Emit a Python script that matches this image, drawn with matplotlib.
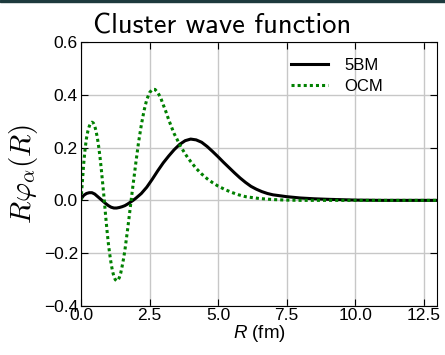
import matplotlib
matplotlib.use("Agg")
import matplotlib.pyplot as plt
from matplotlib.patches import Rectangle


# 5BM cluster wave function R*phi(R)
r_5bm = [0.0, 0.1, 0.2, 0.3, 0.4, 0.5, 0.6, 0.7, 0.8, 0.9, 1.0, 1.1, 1.2,
         1.3, 1.4, 1.5, 1.6, 1.7, 1.8, 1.9, 2.0, 2.2, 2.4, 2.6, 2.8, 3.0,
         3.2, 3.4, 3.6, 3.8, 4.0, 4.2, 4.4, 4.6, 4.8, 5.0, 5.2, 5.4, 5.6,
         5.8, 6.0, 6.2, 6.4, 6.6, 6.8, 7.0, 7.5, 8.0, 8.5, 9.0, 10.0, 11.0,
         12.0, 13.0]
phi_5bm = [0.005, 0.019, 0.026, 0.029, 0.029, 0.024, 0.015, 0.006, -0.003,
           -0.012, -0.020, -0.026, -0.029, -0.029, -0.027, -0.024, -0.020,
           -0.014, -0.007, 0.000, 0.008, 0.026, 0.050, 0.080, 0.112, 0.142,
           0.168, 0.192, 0.212, 0.226, 0.232, 0.229, 0.220, 0.204, 0.185,
           0.165, 0.144, 0.124, 0.104, 0.085, 0.068, 0.053, 0.042, 0.033,
           0.026, 0.021, 0.014, 0.009, 0.006, 0.004, 0.001, 0.0, 0.0, 0.0]

# OCM cluster wave function
r_ocm = [0.0, 0.05, 0.10, 0.15, 0.20, 0.25, 0.30, 0.35, 0.40, 0.45, 0.50,
         0.55, 0.60, 0.65, 0.70, 0.75, 0.80, 0.85, 0.90, 0.95, 1.00, 1.05,
         1.10, 1.15, 1.20, 1.25, 1.30, 1.35, 1.40, 1.45, 1.50, 1.55, 1.60,
         1.65, 1.70, 1.75, 1.80, 1.85, 1.90, 1.95, 2.00, 2.10, 2.20, 2.30,
         2.40, 2.50, 2.60, 2.70, 2.80, 2.90, 3.00, 3.10, 3.20, 3.30, 3.40,
         3.50, 3.60, 3.70, 3.80, 3.90, 4.00, 4.20, 4.40, 4.60, 4.80, 5.00,
         5.25, 5.50, 5.75, 6.00, 6.50, 7.00, 7.50, 8.00, 9.00, 10.0, 11.0,
         12.0, 13.0]
phi_ocm = [0.0, 0.070, 0.140, 0.195, 0.235, 0.262, 0.280, 0.292, 0.296,
           0.293, 0.282, 0.262, 0.235, 0.200, 0.158, 0.108, 0.055, 0.000,
           -0.060, -0.115, -0.165, -0.205, -0.240, -0.268, -0.288, -0.300,
           -0.305, -0.302, -0.292, -0.275, -0.250, -0.222, -0.190, -0.150,
           -0.110, -0.068, -0.025, 0.018, 0.060, 0.100, 0.142, 0.220, 0.285,
           0.340, 0.382, 0.408, 0.420, 0.420, 0.408, 0.390, 0.362, 0.335,
           0.305, 0.278, 0.252, 0.232, 0.210, 0.193, 0.176, 0.161, 0.147,
           0.121, 0.100, 0.082, 0.067, 0.054, 0.041, 0.030, 0.021, 0.014,
           0.007, 0.003, 0.001, 0.0, 0.0, 0.0, 0.0, 0.0, 0.0]

x_ticks = [0.0, 2.5, 5.0, 7.5, 10.0, 12.5]
y_ticks = [-0.4, -0.2, 0.0, 0.2, 0.4, 0.6]

plt.rcParams["font.family"] = ["Liberation Sans", "DejaVu Sans"]
plt.rcParams["mathtext.fontset"] = "custom"
plt.rcParams["mathtext.it"] = "Liberation Sans:italic"
plt.rcParams["mathtext.rm"] = "Liberation Sans"

fig = plt.figure(figsize=(4.45, 3.55), dpi=100)
ax = fig.add_axes([0.182, 0.138, 0.801, 0.744])

ax.plot(r_5bm, phi_5bm, color="black", lw=2.2, label="5BM")
ax.plot(r_ocm, phi_ocm, color="green", lw=2.2, linestyle=(0, (1, 1)),
        label="OCM")

ax.set_xlim(0, 13)
ax.set_ylim(-0.4, 0.6)
ax.set_xticks(x_ticks)
ax.set_yticks(y_ticks)
ax.grid(True, color="0.78", lw=1.0)
ax.set_axisbelow(True)
ax.tick_params(direction="in", top=True, right=True, labelsize=12.5, length=5)
ax.tick_params(axis="x", pad=1.2)
ax.tick_params(axis="y", pad=2.2)

ax.set_xlabel("$R$ (fm)", fontsize=13.5, labelpad=0.5)
ax.set_ylabel(r"$R\varphi_\alpha(R)$", fontsize=21, math_fontfamily="cm",
              labelpad=3)

ax.legend(loc="upper left", bbox_to_anchor=(0.547, 0.997), frameon=False,
          fontsize=12, handlelength=2.2, labelspacing=0.35,
          handletextpad=1.0)

fig.text(0.5, 0.905, "Cluster wave function", family="cmss10",
         fontsize=20.5, ha="center", va="baseline")

# thin dark band along the top edge
fig.patches.append(Rectangle((0, 0.994), 1, 0.006, transform=fig.transFigure,
                             color="#1d3a3d", zorder=10))

fig.savefig("out.png", dpi=100)
